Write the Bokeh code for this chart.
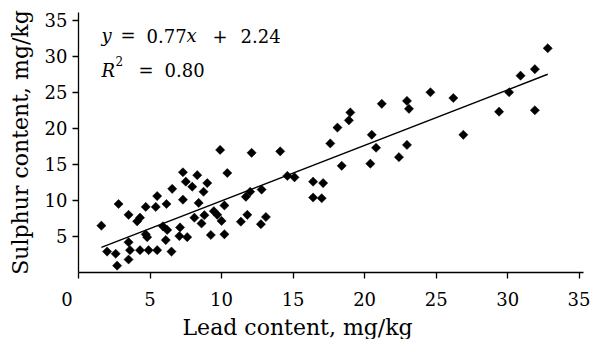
import numpy as np
from bokeh.plotting import figure
from bokeh.models import Label, Range1d, Title
from bokeh.embed import file_html
from bokeh.resources import INLINE

# ---- data ----
lead = [1.6, 2.0, 2.6, 2.7, 2.8, 3.5, 3.5, 3.5, 3.6, 4.1, 4.3, 4.3, 4.7, 4.7, 4.8,
        4.9, 5.4, 5.5, 5.5, 5.9, 6.1, 6.15, 6.2, 6.5, 6.55, 7.05, 7.1, 7.3, 7.3, 7.5,
        7.6, 7.95, 8.1, 8.3, 8.4, 8.6, 8.74, 8.8, 9.0, 9.25, 9.46, 9.7, 9.9, 10.0, 10.2,
        10.2, 10.4, 11.35, 11.7, 11.8, 12.0, 12.1, 12.75, 12.8, 13.1, 14.1, 14.6, 15.1, 16.4,
        17.1, 16.4, 17.0, 17.6, 18.1, 18.4, 18.9, 19.0, 20.4, 20.5, 20.8, 21.2, 22.4, 22.96,
        23.1, 22.96, 24.6, 26.2, 26.9, 29.4, 30.1, 30.9, 31.9, 31.9, 32.8]
sulphur = [6.5, 2.9, 2.6, 0.95, 9.5, 8.0, 4.2, 1.8, 3.1, 7.1, 7.6, 3.1, 9.1, 5.3, 4.9,
           3.1, 9.1, 10.6, 3.1, 6.4, 4.5, 9.5, 5.9, 2.9, 11.6, 5.05, 6.25, 13.9, 10.1, 12.6,
           4.9, 11.9, 7.6, 13.5, 9.65, 6.8, 11.2, 7.95, 12.4, 5.2, 8.5, 8.0, 17.0, 7.15, 9.3,
           5.3, 13.8, 7.05, 10.5, 8.0, 11.2, 16.6, 6.7, 11.5, 7.7, 16.8, 13.4, 13.2, 12.6,
           12.4, 10.4, 10.3, 17.9, 20.1, 14.8, 21.1, 22.2, 15.1, 19.1, 17.3, 23.4, 16.0, 23.8,
           22.7, 17.7, 25.0, 24.2, 19.1, 22.3, 25.0, 27.3, 28.2, 22.5, 31.1]
slope = 0.77
intercept = 2.24
x_ticks = [0, 5, 10, 15, 20, 25, 30, 35]
y_ticks = [5, 10, 15, 20, 25, 30, 35]
x_title = "Lead content, mg/kg"
y_title = "Sulphur content, mg/kg"

FONT = "DejaVu Serif"

p = figure(width=590, height=339, output_backend="svg", toolbar_location=None,
           x_range=Range1d(0, 35.3), y_range=Range1d(0, 36.06),
           min_border_left=78, min_border_right=7, min_border_top=12,
           min_border_bottom=58)
p.grid.visible = False
p.outline_line_color = None

for ax, ticks in ((p.xaxis, x_ticks), (p.yaxis, y_ticks)):
    ax.ticker = ticks
    ax.axis_line_color = "black"
    ax.axis_line_width = 1.3
    ax.major_tick_line_color = "black"
    ax.major_tick_line_width = 1.3
    ax.minor_tick_line_color = None
    ax.major_tick_in = 0
    ax.major_tick_out = 6
    ax.major_label_text_font = FONT
    ax.major_label_text_font_size = "18px"
    ax.major_label_text_color = "black"
p.xaxis.major_label_standoff = 10
p.yaxis.major_label_standoff = 5
# the origin "0" sits a little left of the corner
p.xaxis.major_label_overrides = {0: "0\u2007\u2007"}

p.yaxis.axis_label = y_title
p.yaxis.axis_label_text_font = FONT
p.yaxis.axis_label_text_font_size = "22px"
p.yaxis.axis_label_text_font_style = "normal"
p.yaxis.axis_label_text_color = "black"
p.yaxis.axis_label_standoff = 9

p.add_layout(Title(text=x_title, align="left", offset=104, standoff=0,
                   text_font=FONT, text_font_size="22px", text_font_style="normal",
                   text_color="black"), "below")

# regression line across the data range
lx = np.array([min(lead), max(lead)])
p.line(lx, slope * lx + intercept, line_color="black", line_width=1.4)

p.scatter(lead, sulphur, marker="square", angle=np.pi / 4, size=6.5,
          fill_color="black", line_color="black", line_width=0.5)


# helper to convert reference pixel positions into data coordinates
def dx(px):
    return (px - 78.0) / 14.3


def dy(py):
    return (281.0 - py) / 7.46


def lab(text, px, py, size="18px", style="normal"):
    p.add_layout(Label(x=dx(px), y=dy(py), text=text, text_font=FONT,
                       text_font_size=size, text_font_style=style,
                       text_align="left", text_baseline="alphabetic",
                       text_color="black"))


# equation annotation
lab("y", 101, 36, style="italic")
lab("=", 120, 36)
lab("0.77", 146, 36)
lab("x", 186, 36, style="italic")
lab("+", 212, 36)
lab("2.24", 240, 36)
lab("R", 101, 72, style="italic")
lab("2", 115, 62, size="12px")
lab("=", 138, 72)
lab("0.80", 164, 72)

open("out.html", "w").write(file_html(p, INLINE))
